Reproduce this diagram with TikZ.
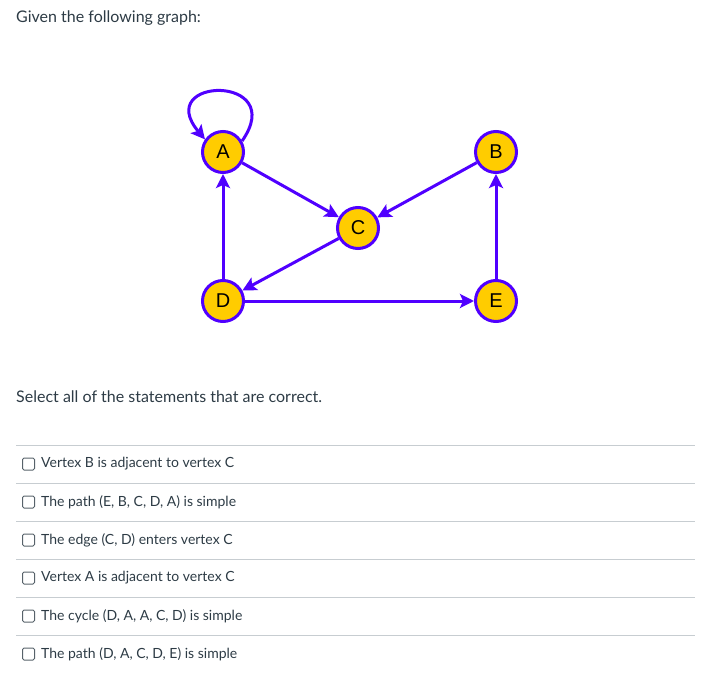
\documentclass[tikz,border=0pt]{standalone}
\usepackage{fontspec}
\setmainfont{Lato}
\newfontfamily\graphfont{Liberation Sans}
\usetikzlibrary{arrows.meta}
\definecolor{edgec}{HTML}{5000FF}
\definecolor{vfill}{HTML}{FFCC00}
\definecolor{txtc}{HTML}{2D3B45}
\definecolor{rulec}{HTML}{C7CDD1}
\tikzset{
  vert/.style={circle, draw=edgec, line width=3pt, fill=vfill, minimum size=41pt, inner sep=0pt, font=\graphfont\fontsize{20pt}{20pt}\selectfont, text=black},
  edge/.style={draw=edgec, line width=3pt, -{Stealth[length=14pt,width=14pt,inset=3pt]}},
  body/.style={anchor=west, inner sep=0pt, text=txtc, font=\fontsize{14pt}{16pt}\selectfont},
  head/.style={body, font=\fontsize{16pt}{18pt}\selectfont},
  sep/.style={draw=rulec, line width=1pt},
  chk/.style={draw=txtc!80, line width=1pt, rounded corners=1.5pt, minimum size=12pt, inner sep=0pt}
}
\begin{document}
\begin{tikzpicture}[x=1pt,y=-1pt]
\useasboundingbox (0,0) rectangle (712,679);
\node[head] (title) at (16,18) {Given the following graph:};
% vertices
\node[vert] (A) at (223,152) {A};
\node[vert] (B) at (496,152) {B};
\node[vert] (C) at (358,228) {C};
\node[vert] (D) at (223,301) {D};
\node[vert] (E) at (496,301) {E};
% edges
\draw[edge] (A.30) to[out=55, in=130, distance=82pt] (A.145);
\draw[edge] (A) -- (C);
\draw[edge] (B) -- (C);
\draw[edge] (C) -- (D);
\draw[edge] (D) -- (E);
\draw[edge] (E) -- (B);
\draw[edge] (D) -- (A);
\node[head] (q) at (16,397) {Select all of the statements that are correct.};
% rules
\foreach \i/\y in {1/445,2/483,3/521,4/559,5/597,6/635}{
  \coordinate (l\i) at (16,\y);
  \coordinate (r\i) at (695,\y);
  \draw[sep] (l\i) -- (r\i);
}
% options
\foreach \i/\y/\t in {1/464/{Vertex B is adjacent to vertex C},
                      2/502/{The path (E, B, C, D, A) is simple},
                      3/540/{The edge (C, D) enters vertex C},
                      4/578/{Vertex A is adjacent to vertex C},
                      5/616/{The cycle (D, A, A, C, D) is simple},
                      6/654/{The path (D, A, C, D, E) is simple}}{
  \node[chk] (box\i) at (28.5,\y) {};
  \node[body] (opt\i) at (41,\y) {\t};
}
\end{tikzpicture}
\end{document}
